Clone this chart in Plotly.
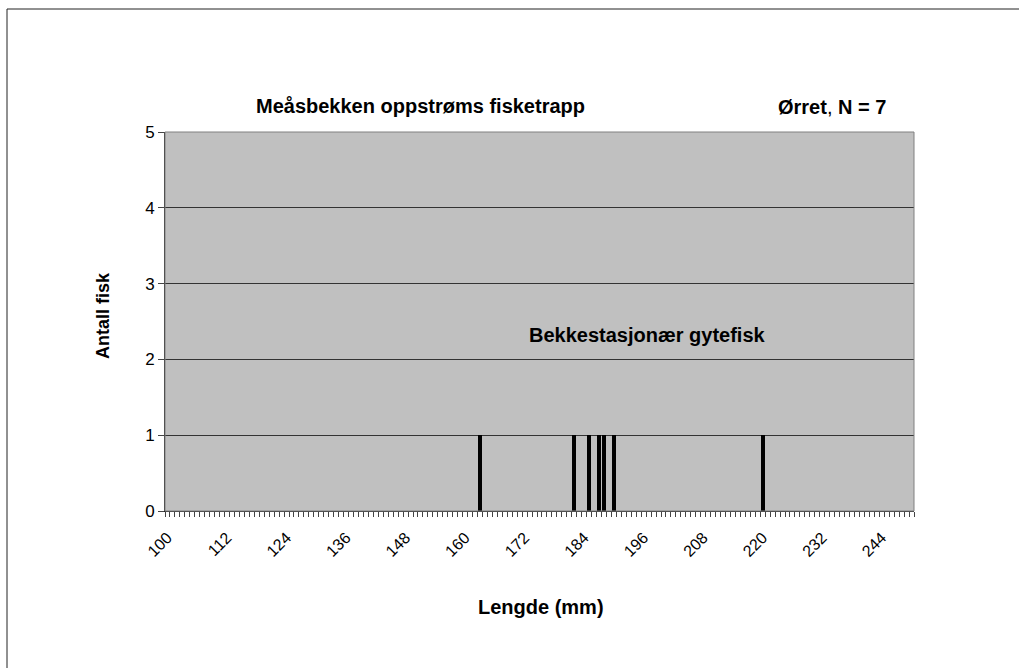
import plotly.graph_objects as go

lengths = [163, 182, 185, 187, 188, 190, 220]
counts = [1, 1, 1, 1, 1, 1, 1]
x_tick_labels = list(range(100, 245, 12))
y_ticks = [0, 1, 2, 3, 4, 5]

title_text = "Meåsbekken oppstrøms fisketrapp"
species_text = "<b>Ørret</b>, <b>N = 7</b>"
group_text = "Bekkestasjonær gytefisk"
x_title = "Lengde (mm)"
y_title = "Antall fisk"

FONT = "Liberation Sans, Arial, sans-serif"

L, R, T, B = 165, 105, 132, 157
PW, PH = 1019 - L - R, 668 - T - B


def px(x):
    return (x - L) / PW


def py(y):
    return (668 - B - y) / PH


fig = go.Figure()
fig.add_trace(go.Bar(x=lengths, y=counts, width=0.75,
                     marker=dict(color="black", line=dict(width=0)),
                     showlegend=False))

fig.update_layout(
    width=1019, height=668,
    margin=dict(l=L, r=R, t=T, b=B),
    paper_bgcolor="white",
    plot_bgcolor="#C0C0C0",
    font=dict(family=FONT, color="black", size=16),
    bargap=0,
)

fig.update_xaxes(
    range=[99.5, 250.5],
    tickmode="array", tickvals=x_tick_labels,
    ticktext=[str(v) for v in x_tick_labels],
    tickangle=-45, ticks="", tickfont=dict(size=16),
    ticklabelstandoff=10,
    showgrid=False, zeroline=False,
    showline=True, linecolor="#222222", linewidth=1,
    minor=dict(tick0=99.5, dtick=1, ticks="outside", ticklen=5,
               tickcolor="#444444", tickwidth=1, showgrid=False),
)
fig.update_yaxes(
    range=[0, 5], tickmode="array", tickvals=y_ticks,
    ticks="outside", ticklen=6, tickcolor="#444444",
    tickfont=dict(size=17),
    showgrid=True, gridcolor="#333333", gridwidth=1,
    zeroline=False,
    showline=True, linecolor="#222222", linewidth=1,
)

# plot area border
fig.add_shape(type="rect", xref="paper", yref="paper", x0=0, y0=0, x1=1, y1=1,
              line=dict(color="#808080", width=1), layer="above")
# chart border (top and left visible)
fig.add_shape(type="line", xref="paper", yref="paper",
              x0=px(7), y0=py(9), x1=px(1030), y1=py(9),
              line=dict(color="#222222", width=1))
fig.add_shape(type="line", xref="paper", yref="paper",
              x0=px(7), y0=py(9), x1=px(7), y1=py(680),
              line=dict(color="#222222", width=1))

fig.add_annotation(xref="paper", yref="paper", x=px(420), y=py(106),
                   text="<b>" + title_text + "</b>", showarrow=False,
                   font=dict(size=20), xanchor="center", yanchor="middle")
fig.add_annotation(xref="paper", yref="paper", x=px(832), y=py(107),
                   text=species_text, showarrow=False,
                   font=dict(size=20), xanchor="center", yanchor="middle")
fig.add_annotation(x=196.7, y=2.32, text="<b>" + group_text + "</b>", showarrow=False,
                   font=dict(size=20), xanchor="center", yanchor="middle")
fig.add_annotation(xref="paper", yref="paper", x=px(541), y=py(607),
                   text="<b>" + x_title + "</b>", showarrow=False,
                   font=dict(size=20), xanchor="center", yanchor="middle")
fig.add_annotation(xref="paper", yref="paper", x=px(103), y=py(316),
                   text="<b>" + y_title + "</b>", showarrow=False, textangle=-90,
                   font=dict(size=18), xanchor="center", yanchor="middle")

fig.write_html("out.html")
